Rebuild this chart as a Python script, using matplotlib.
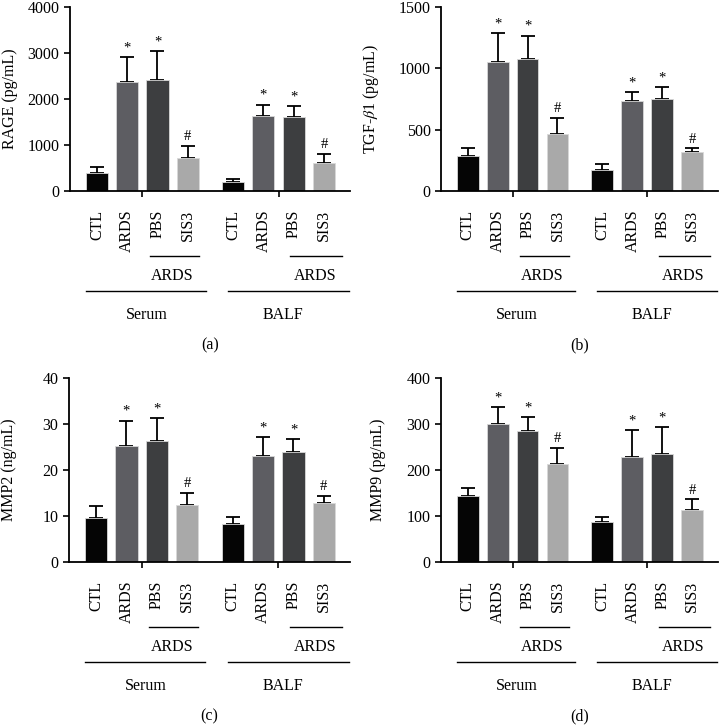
import matplotlib
matplotlib.use("Agg")
import matplotlib.pyplot as plt

plt.rcParams['font.family'] = ['Liberation Serif', 'DejaVu Serif']
plt.rcParams['mathtext.fontset'] = 'stix'

groups = ["CTL", "ARDS", "PBS", "SIS3"]
sites = ["Serum", "BALF"]
colors = ["#050505", "#5d5d62", "#3d3e40", "#a9a9a9"]

rage_mean = [400, 2380, 2415, 717, 188, 1630, 1600, 601]
rage_err = [130, 527, 630, 270, 73, 247, 240, 211]
tgf_mean = [286, 1051, 1075, 465, 171, 735, 746, 316]
tgf_err = [62, 234, 191, 128, 52, 73, 103, 32]
mmp2_mean = [9.5, 25.2, 26.4, 12.5, 8.25, 23.1, 23.9, 12.9]
mmp2_err = [2.6, 5.5, 4.9, 2.6, 1.45, 4.1, 2.8, 1.4]
mmp9_mean = [143, 301, 284, 214, 86, 229, 234, 114]
mmp9_err = [17, 35, 31, 34, 11, 58, 59, 22]
marks = ["", "*", "*", "#", "", "*", "*", "#"]

panels = [
    ("RAGE (pg/mL)", rage_mean, rage_err, 4000, [0, 1000, 2000, 3000, 4000], "(a)"),
    (r"TGF-$\beta$1 (pg/mL)", tgf_mean, tgf_err, 1500, [0, 500, 1000, 1500], "(b)"),
    ("MMP2 (ng/mL)", mmp2_mean, mmp2_err, 40, [0, 10, 20, 30, 40], "(c)"),
    ("MMP9 (pg/mL)", mmp9_mean, mmp9_err, 400, [0, 100, 200, 300, 400], "(d)"),
]

W, H = 719, 726
fig = plt.figure(figsize=(W / 100, H / 100), dpi=100)
boxes = [(70, 7, 280, 184), (441, 7, 277, 184), (69, 378, 281, 184), (441, 378, 277, 184)]
label_x = [-0.185, -0.215, -0.185, -0.2]

pos = [0, 1, 2, 3, 4.5, 5.5, 6.5, 7.5]
fs = 11.5

for (ylab, mean, err, ymax, yt, tag), (l, t, w, h), lx in zip(panels, boxes, label_x):
    ax = fig.add_axes([l / W, 1 - (t + h) / H, w / W, h / H])
    cols = colors + colors
    ax.bar(pos, mean, width=0.73, color=cols, edgecolor="#d8d8d8", linewidth=0.6, zorder=2)
    ax.errorbar(pos, mean, yerr=[[0] * 8, err], fmt="none", ecolor="black",
                elinewidth=1.3, capsize=5, capthick=1.3, zorder=1)
    for x, m, e, s in zip(pos, mean, err, marks):
        if s:
            ax.annotate(s, (x, m + e), xytext=(0, 2), textcoords="offset points",
                        ha="center", va="bottom", fontsize=fs - 1)
    ax.set_xlim(-0.89, 8.36)
    ax.set_ylim(0, ymax)
    ax.set_yticks(yt)
    ax.set_xticks([1.5, 6.0])
    ax.set_xticklabels([])
    ax.tick_params(axis="y", labelsize=fs, length=4, width=1.2, direction="out")
    ax.tick_params(axis="x", length=4, width=1.2, direction="out")
    for sp in ["top", "right"]:
        ax.spines[sp].set_visible(False)
    for sp in ["left", "bottom"]:
        ax.spines[sp].set_linewidth(1.3)
    ax.set_ylabel(ylab, fontsize=fs)
    ax.yaxis.set_label_coords(lx, 0.5)
    tr = ax.get_xaxis_transform()
    for i, x in enumerate(pos):
        ax.text(x, -0.1, groups[i % 4], rotation=90, ha="center", va="top",
                fontsize=fs, transform=tr)
    for g, (sub, long_, site_x, ards_x) in enumerate([
            ((1.75, 3.37), (-0.36, 3.6), 1.65, 2.5),
            ((6.38, 8.1), (4.33, 8.33), 6.15, 7.2)]):
        ax.plot(sub, [-0.353, -0.353], color="black", lw=1.0, transform=tr, clip_on=False)
        ax.text(ards_x, -0.462, "ARDS", ha="center", va="center", fontsize=fs, transform=tr)
        ax.plot(long_, [-0.543, -0.543], color="black", lw=1.0, transform=tr, clip_on=False)
        ax.text(site_x, -0.674, sites[g], ha="center", va="center", fontsize=fs, transform=tr)
    ax.text(0.5, -0.837, tag, ha="center", va="center", fontsize=fs, transform=ax.transAxes)

fig.savefig("out.png", dpi=100)
